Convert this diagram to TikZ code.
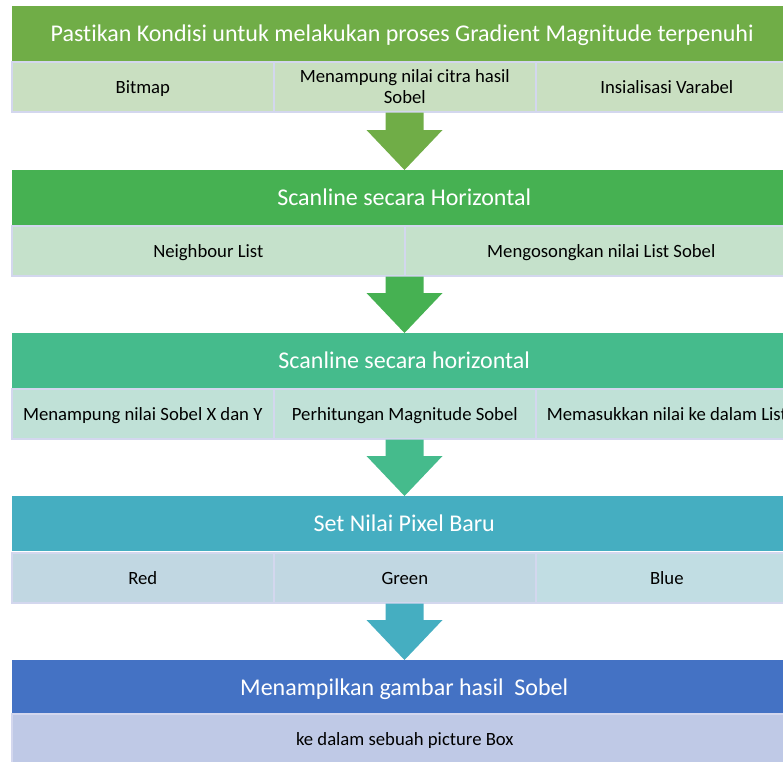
\documentclass[tikz,border=0pt]{standalone}
\usepackage{fontspec}
\setmainfont{Carlito}[Ligatures=NoCommon]
\usetikzlibrary{calc}

\definecolor{hA}{HTML}{70AD47}
\definecolor{hB}{HTML}{46B152}
\definecolor{hC}{HTML}{45BB8C}
\definecolor{hD}{HTML}{45AEC1}
\definecolor{hE}{HTML}{4472C4}
\definecolor{sA}{HTML}{C9DFC1}
\definecolor{sB}{HTML}{C5E1CB}
\definecolor{sC}{HTML}{C0E1D7}
\definecolor{sD}{HTML}{C1D7E2}
\definecolor{sDb}{HTML}{C1DDE3}
\definecolor{sE}{HTML}{BFC9E6}
\definecolor{cellline}{HTML}{D3D7EE}

\tikzset{
  header/.style={anchor=north west, inner sep=0pt, minimum width=784pt,
    minimum height=55pt, text=white, text height=19pt, text depth=3pt,
    font=\fontsize{24}{28}\selectfont},
  cellbase/.style={anchor=north west, inner sep=0pt, draw=cellline, line width=1.6pt,
    minimum height=50pt, text=black, align=center,
    font=\fontsize{18.7}{20.5}\selectfont},
  cell/.style={cellbase, text height=15pt, text depth=2pt},
}

% down arrow from the bottom of one row to the top of the next header
\newcommand\flowarrow[3]{%
  \fill[#1] ($(#2.south -| axis)+(-19,0)$) -- ($(#2.south -| axis)+(19,0)$)
    -- ($(#3.north -| axis)+(19,-40)$) -- ($(#3.north -| axis)+(38,-40)$)
    -- (#3.north -| axis) -- ($(#3.north -| axis)+(-38,-40)$)
    -- ($(#3.north -| axis)+(-19,-40)$) -- cycle;}

\begin{document}
\begin{tikzpicture}[x=1pt,y=-1pt]
\useasboundingbox (0,0) rectangle (783,761);
\coordinate (axis) at (404.5,0);

% stage 1
\node[header, fill=hA] (h1) at (12,6) {\hspace*{-4pt}Pastikan Kondisi untuk melakukan proses Gradient Magnitude terpenuhi};
\node[cell, fill=sA, minimum width=262pt] (c11) at (11,61) {Bitmap};
\node[cellbase, fill=sA, minimum width=262pt] (c12) at (273,61) {Menampung nilai citra hasil\\Sobel};
\node[cell, fill=sA, minimum width=262pt] (c13) at (535,61) {Insialisasi Varabel};

% stage 2
\node[header, fill=hB] (h2) at (12,170) {Scanline secara Horizontal};
\node[cell, fill=sB, minimum width=393pt] (c21) at (11,225) {Neighbour List};
\node[cell, fill=sB, minimum width=393pt] (c22) at (404,225) {Mengosongkan nilai List Sobel};

% stage 3
\node[header, fill=hC] (h3) at (12,333) {Scanline secara horizontal};
\node[cell, fill=sC, minimum width=262pt] (c31) at (11,388) {Menampung nilai Sobel X dan Y};
\node[cell, fill=sC, minimum width=262pt] (c32) at (273,388) {Perhitungan Magnitude Sobel};
\node[cell, fill=sC, minimum width=262pt] (c33) at (535,388) {Memasukkan nilai ke dalam List};

% stage 4
\node[header, fill=hD] (h4) at (12,496) {Set Nilai Pixel Baru};
\node[cell, fill=sD, minimum width=262pt] (c41) at (11,552) {Red};
\node[cell, fill=sD, minimum width=262pt] (c42) at (273,552) {Green};
\node[cell, fill=sDb, minimum width=262pt] (c43) at (535,552) {Blue};

% stage 5
\node[header, fill=hE] (h5) at (12,660) {Menampilkan gambar hasil\ \ Sobel};
\node[cell, fill=sE, minimum width=786pt] (c51) at (11,713) {ke dalam sebuah picture Box};

% connectors
\flowarrow{hA}{c12}{h2}
\flowarrow{hB}{c21}{h3}
\flowarrow{hC}{c32}{h4}
\flowarrow{hD}{c42}{h5}
\end{tikzpicture}
\end{document}
